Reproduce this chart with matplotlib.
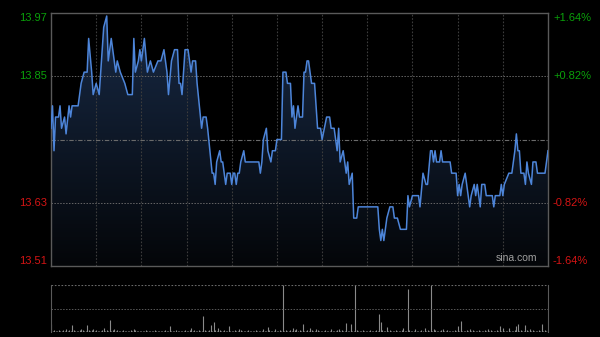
import numpy as np
import matplotlib
matplotlib.use('Agg')
import matplotlib.pyplot as plt
from matplotlib.colors import LinearSegmentedColormap

plt.rcParams['font.family'] = ['Liberation Sans', 'DejaVu Sans']

# intraday price vertices (minutes from open, HK session: 330 minutes)
minutes = [0, 1, 2, 3, 5, 6, 7, 9, 10, 12, 13, 14, 18, 20, 22, 24, 25, 27, 28, 30,
           32, 35, 37, 38, 40, 43, 44, 46, 49, 51, 54, 55, 56, 58, 59, 60, 62, 64, 66, 68,
           71, 73, 75, 77, 78, 80, 82, 84, 85, 86, 87, 89, 91, 93, 94, 96, 97, 100, 101, 103,
           104, 107, 108, 109, 110, 112, 113, 114, 115, 116, 117, 119, 120, 121, 122, 123, 124, 125, 126, 128,
           129, 138, 139, 140, 141, 143, 144, 146, 147, 149, 150, 153, 154, 156, 157, 159, 160, 161, 162, 163,
           164, 165, 167, 168, 169, 170, 171, 173, 175, 177, 179, 180, 183, 185, 186, 188, 190, 191, 192, 194,
           196, 197, 198, 200, 201, 203, 204, 217, 218, 219, 220, 221, 223, 225, 227, 228, 230, 232, 236, 237,
           238, 240, 244, 245, 247, 249, 250, 252, 253, 254, 255, 256, 258, 259, 260, 265, 266, 269, 270, 271,
           272, 273, 275, 276, 278, 279, 281, 282, 283, 285, 286, 288, 289, 293, 294, 295, 298, 299, 300, 301,
           304, 306, 308, 309, 310, 311, 312, 314, 315, 316, 317, 319, 320, 322, 323, 328, 330]
prices = [13.76, 13.80, 13.72, 13.78, 13.78, 13.80, 13.76, 13.78, 13.75, 13.80, 13.78, 13.80, 13.80, 13.84, 13.86, 13.86, 13.92, 13.86, 13.82, 13.84,
          13.82, 13.94, 13.96, 13.88, 13.92, 13.86, 13.88, 13.86, 13.84, 13.82, 13.82, 13.92, 13.86, 13.88, 13.90, 13.88, 13.92, 13.86, 13.88, 13.86,
          13.88, 13.88, 13.90, 13.86, 13.82, 13.88, 13.90, 13.90, 13.84, 13.84, 13.82, 13.90, 13.90, 13.86, 13.88, 13.88, 13.84, 13.76, 13.78, 13.78,
          13.76, 13.68, 13.68, 13.66, 13.70, 13.72, 13.70, 13.70, 13.68, 13.66, 13.68, 13.68, 13.66, 13.68, 13.68, 13.66, 13.68, 13.68, 13.70, 13.72,
          13.70, 13.70, 13.68, 13.70, 13.74, 13.76, 13.72, 13.70, 13.72, 13.72, 13.74, 13.74, 13.86, 13.86, 13.84, 13.84, 13.78, 13.80, 13.76, 13.78,
          13.80, 13.78, 13.78, 13.86, 13.86, 13.88, 13.88, 13.84, 13.84, 13.76, 13.76, 13.74, 13.78, 13.78, 13.76, 13.76, 13.72, 13.76, 13.70, 13.72,
          13.68, 13.70, 13.66, 13.68, 13.60, 13.60, 13.62, 13.62, 13.58, 13.56, 13.58, 13.56, 13.60, 13.62, 13.62, 13.60, 13.60, 13.58, 13.58, 13.64,
          13.62, 13.64, 13.64, 13.62, 13.68, 13.66, 13.66, 13.72, 13.72, 13.70, 13.72, 13.70, 13.70, 13.72, 13.70, 13.70, 13.68, 13.68, 13.64, 13.66,
          13.64, 13.66, 13.68, 13.66, 13.62, 13.64, 13.66, 13.64, 13.66, 13.62, 13.66, 13.66, 13.64, 13.64, 13.62, 13.64, 13.64, 13.66, 13.64, 13.66,
          13.68, 13.68, 13.72, 13.75, 13.72, 13.72, 13.68, 13.68, 13.66, 13.70, 13.68, 13.66, 13.70, 13.70, 13.68, 13.68, 13.72]

prev_close = 13.74
pct_range = 0.0164
left_labels = ['13.97', '13.85', '13.63', '13.51']
right_labels = ['+1.64%', '+0.82%', '-0.82%', '-1.64%']

# per-minute volume (relative, max = 100)
vol_small = [3, 2, 4, 2, 3, 5, 2, 3, 4, 2, 3, 2, 5, 3, 2, 4, 3, 2, 3, 5, 2, 4, 3, 2, 3, 4, 2, 5, 3, 2,
             4, 3, 2, 3, 5, 2, 3, 4, 2, 3, 2, 4, 3, 2, 5, 3, 2, 3, 4, 2, 3, 2, 3, 4, 2, 3, 5, 2, 3, 2,
             2, 3, 2, 4, 2, 3, 2, 2, 3, 4, 2, 3, 2, 2, 3, 2, 4, 3, 2, 3, 2, 2, 3, 4, 2, 3, 2, 3, 2, 4,
             3, 2, 4, 3, 2, 5, 3, 2, 4, 3, 2, 3, 5, 2, 3, 4, 2, 3, 2, 4, 3, 2, 5, 3, 2, 4, 3, 2, 3, 2,
             3, 2, 4, 2, 3, 2, 4, 3, 2, 3, 2, 4, 2, 3, 3, 2, 4, 2, 3, 2, 3, 4, 2, 3, 2, 4, 3, 2, 3, 4,
             3, 2, 4, 3, 5, 3, 4, 2, 3, 4, 2, 3, 4, 3, 2, 5, 3, 4, 2, 3, 4, 3, 2, 4, 3, 2, 3, 5, 2, 3,
             2, 3, 4, 2, 3, 2, 4, 3, 2, 3, 4, 2, 3, 4, 2, 3, 4, 3, 2, 4, 3, 2, 3, 4, 2, 3, 2, 4, 3, 2,
             3, 2, 4, 3, 2, 3, 4, 2, 3, 2, 4, 3, 2, 3, 2, 4, 3, 2, 3, 4, 2, 3, 2, 4, 3, 2, 3, 2, 4, 3,
             2, 3, 4, 2, 3, 2, 4, 3, 2, 3, 4, 2, 3, 2, 3, 4, 2, 3, 2, 4, 3, 2, 3, 4, 2, 3, 2, 3, 4, 2,
             3, 2, 4, 3, 2, 3, 4, 2, 3, 2, 4, 3, 2, 3, 4, 2, 3, 2, 4, 3, 2, 3, 4, 2, 3, 2, 4, 3, 2, 3,
             4, 2, 3, 2, 4, 3, 2, 3, 4, 2, 3, 2, 4, 3, 2, 3, 4, 2, 3, 2, 4, 3, 2, 3, 4, 2, 3, 2, 4, 3,
             4]
spike_minutes = [0, 10, 14, 20, 24, 28, 35, 39, 42, 55, 79, 93, 101, 106, 108, 111, 118, 125, 141, 144,
                 149, 154, 161, 163, 167, 172, 176, 186, 191, 196, 199, 202, 218, 219, 223, 234, 237, 242, 248, 252,
                 254, 260, 270, 272, 278, 290, 298, 300, 304, 309, 310, 315, 318, 326]
spike_vols = [16, 7, 14, 7, 14, 7, 9, 26, 6, 7, 12, 9, 34, 14, 21, 9, 12, 6, 6, 11,
              6, 100, 9, 7, 16, 9, 7, 6, 7, 19, 16, 100, 39, 21, 11, 9, 91, 6, 9, 100,
              7, 7, 12, 23, 6, 7, 12, 9, 9, 12, 16, 14, 7, 16]

volume = list(vol_small)
for m, v in zip(spike_minutes, spike_vols):
    volume[m] = v

ylo = prev_close * (1 - pct_range)
yhi = prev_close * (1 + pct_range)
grid_hi = prev_close * (1 + pct_range / 2)
grid_lo = prev_close * (1 - pct_range / 2)

fig = plt.figure(figsize=(6, 3.37), dpi=100, facecolor='black')
ax = fig.add_axes([51 / 600, 1 - 266 / 337, 497 / 600, 253 / 337], facecolor='black')
axv = fig.add_axes([51 / 600, 1 - 332 / 337, 497 / 600, 47 / 337], facecolor='black')

# price chart
fill = ax.fill_between(minutes, prices, ylo, color='none', lw=0)
cmap = LinearSegmentedColormap.from_list('g', ['#040609', '#182a46'])
grad = np.linspace(0, 1, 256).reshape(-1, 1)
im = ax.imshow(grad, extent=[0, 330, ylo, yhi], aspect='auto', cmap=cmap,
               origin='lower', zorder=1)
im.set_clip_path(fill.get_paths()[0], transform=ax.transData)
ax.plot(minutes, prices, color='#4d85d9', lw=1.1, zorder=3)

for xv in range(30, 330, 30):
    ax.axvline(xv, color='#3c3c3c', lw=0.8, ls=(0, (1.5, 1.5)), zorder=2)
ax.axhline(grid_hi, color='#666666', lw=0.7, ls=(0, (1.5, 1.5)), zorder=2)
ax.axhline(grid_lo, color='#666666', lw=0.7, ls=(0, (1.5, 1.5)), zorder=2)
ax.axhline(prev_close, color='#6a6a6a', lw=0.8, ls=(0, (4, 1.5, 1, 1.5)), zorder=2)

ax.set_xlim(0, 330)
ax.set_ylim(ylo, yhi)
ax.set_xticks([])
ax.set_yticks([])
for s in ax.spines.values():
    s.set_color('#5a5a5a')
    s.set_linewidth(1)

levels = [yhi, grid_hi, grid_lo, ylo]
vas = ['top', 'center', 'center', 'bottom']
lcolors = ['#0aa00a', '#0aa00a', '#d41414', '#d41414']
tr = ax.get_yaxis_transform()
for lvl, lab, rlab, va, c in zip(levels, left_labels, right_labels, vas, lcolors):
    ax.text(-0.008, lvl, lab, transform=tr, ha='right', va=va, color=c, fontsize=8)
    ax.text(1.01, lvl, rlab, transform=tr, ha='left', va=va, color=c, fontsize=8)

ax.text(0.978, 0.01, 'sina.com', transform=ax.transAxes, ha='right', va='bottom',
        color='#a0a0a0', fontsize=7.5, zorder=4)

# volume chart
axv.vlines(range(len(volume)), 0, volume, color='#8a8a8a', lw=0.8)
axv.set_xlim(0, 330)
axv.set_ylim(0, 100)
axv.axhline(50, color='#5a5a5a', lw=0.7, ls=(0, (1.5, 1.5)))
axv.axhline(100, color='#6a6a6a', lw=0.8, ls=(0, (1.5, 1.5)))
axv.set_xticks([])
axv.set_yticks([])
for k in ['top', 'bottom']:
    axv.spines[k].set_visible(False)
for k in ['left', 'right']:
    axv.spines[k].set_color('#5a5a5a')

fig.savefig('out.png', dpi=100, facecolor='black')
